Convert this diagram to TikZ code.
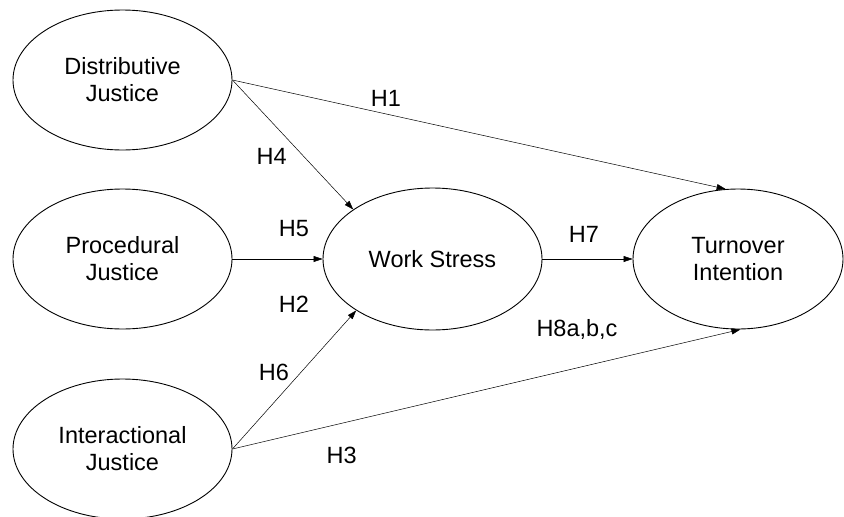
\documentclass[tikz,border=0pt]{standalone}
\usepackage{fontspec}
\setmainfont{Liberation Sans}
\usetikzlibrary{shapes.geometric,arrows.meta}
\begin{document}
\begin{tikzpicture}[x=1pt,y=-1pt,
  construct/.style={ellipse,draw,line width=0.9pt,minimum width=219pt,minimum height=140pt,inner sep=0pt,align=center,font=\fontsize{23.5}{27}\selectfont},
  hlabel/.style={anchor=base,inner sep=0pt,font=\fontsize{23.5}{27}\selectfont},
  link/.style={draw,line width=0.5pt,-{Triangle[length=9pt,width=6pt]}}
]
\useasboundingbox (0,0) rectangle (844,517);
\node[construct] (dj) at (122.5,80) {Distributive\\Justice};
\node[construct] (pj) at (122.5,259) {Procedural\\Justice};
\node[construct] (ij) at (122.5,449) {Interactional\\Justice};
\node[construct,minimum height=142pt] (ws) at (432.5,259) {Work Stress};
\node[construct,minimum width=210pt] (ti) at (738,259) {Turnover\\Intention};

\draw[link] (dj.east) -- (ti.100);
\draw[link] (dj.east) -- (ws.148);
\draw[link] (pj.east) -- (ws.west);
\draw[link] (ij.east) -- (ws.214);
\draw[link] (ij.east) -- (ti.272);
\draw[link] (ws.east) -- (ti.west);

\node[hlabel] (h1) at (386,106.7) {H1};
\node[hlabel] (h4) at (271.7,164.3) {H4};
\node[hlabel] (h5) at (294,236) {H5};
\node[hlabel] (h2) at (294,312.7) {H2};
\node[hlabel] (h7) at (584,242.7) {H7};
\node[hlabel] (h8) at (577,336) {H8a,b,c};
\node[hlabel] (h6) at (274,380) {H6};
\node[hlabel] (h3) at (341.7,463.3) {H3};
\end{tikzpicture}
\end{document}
